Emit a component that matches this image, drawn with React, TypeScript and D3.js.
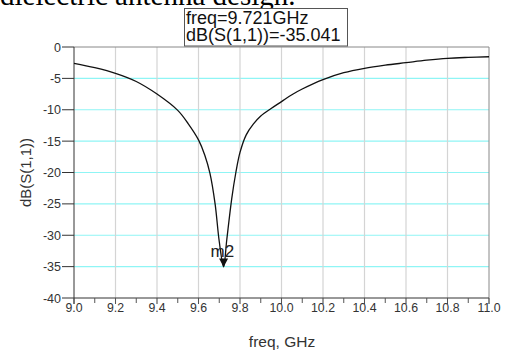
import React from "react";
import * as d3 from "d3";

const freqGHz = [9.0, 9.1, 9.2, 9.3, 9.4, 9.5, 9.55, 9.6, 9.63, 9.655, 9.68, 9.7, 9.721, 9.736, 9.76, 9.78, 9.8, 9.83, 9.864, 9.9, 9.95, 10.0, 10.05, 10.1, 10.2, 10.3, 10.4, 10.5, 10.6, 10.7, 10.8, 10.9, 11.0];
const s11dB = [-2.6, -3.3, -4.2, -5.5, -7.5, -10.1, -12.2, -14.8, -17.2, -20.1, -25.0, -31.0, -35.041, -30.8, -24.2, -20.0, -16.8, -14.0, -12.3, -11.0, -9.8, -8.7, -7.6, -6.7, -5.2, -4.1, -3.4, -2.9, -2.5, -2.1, -1.8, -1.65, -1.55];
const xTicks = [9.0, 9.2, 9.4, 9.6, 9.8, 10.0, 10.2, 10.4, 10.6, 10.8, 11.0];
const xMinorTicks = [9.1, 9.3, 9.5, 9.7, 9.9, 10.1, 10.3, 10.5, 10.7, 10.9];
const yTicks = [0, -5, -10, -15, -20, -25, -30, -35, -40];
const markerFreq = 9.721;
const markerValue = -35.041;
const markerLines = ["freq=9.721GHz", "dB(S(1,1))=-35.041"];

const FONT = "'Liberation Sans', Arial, sans-serif";

export default function App() {
  const left = 74, right = 489, top = 47, bottom = 298;
  const x = d3.scaleLinear().domain([9.0, 11.0]).range([left, right]);
  const y = d3.scaleLinear().domain([-40, 0]).range([bottom, top]);
  const pts = freqGHz.map((f, i) => [f, s11dB[i]] as [number, number]);
  const line = d3.line<[number, number]>().x(d => x(d[0])).y(d => y(d[1])).curve(d3.curveCatmullRom.alpha(0.5));
  const mx = x(markerFreq), my = y(markerValue);

  return (
    <svg width={506} height={353} style={{ position: "absolute", left: 0, top: 0, background: "#fff" }}>
      <rect x={0} y={0} width={506} height={353} fill="#fff" />
      <text x={0} y={5} fontFamily="'Liberation Serif', 'Times New Roman', serif" fontSize={29} fill="#000">dielectric antenna design.</text>
      {/* grid */}
      {yTicks.filter(t => t !== 0 && t !== -40).map(t => (
        <line key={"gy" + t} x1={left} x2={right} y1={y(t)} y2={y(t)} stroke="#8ff5f5" strokeWidth={1.2} />
      ))}
      {xTicks.filter(t => t !== 9.0 && t !== 11.0).map(t => (
        <line key={"gx" + t} x1={x(t)} x2={x(t)} y1={top} y2={bottom + 6} stroke="#d4d4d4" strokeWidth={1.2} />
      ))}
      {/* frame */}
      <line x1={left} x2={right} y1={top} y2={top} stroke="#888" strokeWidth={1} />
      <line x1={right} x2={right} y1={top} y2={bottom + 6} stroke="#888" strokeWidth={1} />
      <line x1={left} x2={left} y1={top} y2={bottom + 6} stroke="#333" strokeWidth={1} />
      <line x1={left} x2={right} y1={bottom} y2={bottom} stroke="#333" strokeWidth={1} />
      {/* y ticks */}
      {yTicks.map(t => (
        <g key={"yt" + t}>
          <line x1={62} x2={left} y1={y(t)} y2={y(t)} stroke="#333" strokeWidth={1} />
          <text x={61} y={y(t) + 4.5} textAnchor="end" fontFamily={FONT} fontSize={12.5} fill="#333">{t}</text>
        </g>
      ))}
      {/* x ticks */}
      {xTicks.map(t => (
        <g key={"xt" + t}>
          <line x1={x(t)} x2={x(t)} y1={bottom} y2={bottom + 6} stroke="#555" strokeWidth={1} />
          <text x={x(t)} y={312} textAnchor="middle" fontFamily={FONT} fontSize={12.3} fill="#333">{t.toFixed(1)}</text>
        </g>
      ))}
      {xMinorTicks.map(t => (
        <line key={"xm" + t} x1={x(t)} x2={x(t)} y1={bottom} y2={bottom + 5} stroke="#555" strokeWidth={1} />
      ))}
      {/* axis titles */}
      <text x={282} y={347} textAnchor="middle" fontFamily={FONT} fontSize={15.5} fill="#333">freq, GHz</text>
      <text transform={`translate(31,172.5) rotate(-90)`} textAnchor="middle" fontFamily={FONT} fontSize={15} fill="#333">dB(S(1,1))</text>
      {/* curve */}
      <path d={line(pts) ?? ""} fill="none" stroke="#111" strokeWidth={1.3} />
      {/* marker */}
      <path d={`M${mx},${my} L${mx - 4.5},${my - 8.5} L${mx + 4.5},${my - 8.5} Z`} fill="#111" />
      <text x={mx - 13} y={my - 10} fontFamily={FONT} fontSize={17} fill="#222">m2</text>
      {/* readout box */}
      <rect x={184.5} y={8.5} width={163} height={37.5} fill="#fff" stroke="#555" strokeWidth={1} />
      {markerLines.map((s, i) => (
        <text key={s} x={186} y={24 + i * 17} fontFamily={FONT} fontSize={18} fill="#111">{s}</text>
      ))}
    </svg>
  );
}
